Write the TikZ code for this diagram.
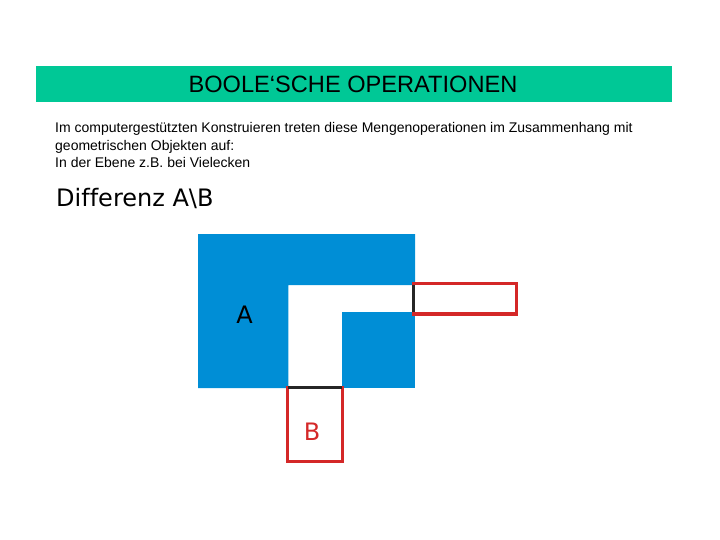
\documentclass[tikz,border=0pt]{standalone}
\usepackage{fontspec}
\setmainfont{Liberation Sans}
\newfontfamily\dejavu[Ligatures=NoCommon]{DejaVu Sans}
\usetikzlibrary{positioning}
\definecolor{titlegreen}{RGB}{0,200,150}
\definecolor{setblue}{RGB}{0,142,214}
\definecolor{setred}{RGB}{212,40,40}
\tikzset{
  bodytext/.style={anchor=base west, inner sep=0pt, font=\fontsize{14}{16}\selectfont},
  setlabel/.style={inner sep=0pt, font=\dejavu\fontsize{24}{28}\selectfont},
  redbox/.style={draw=setred, line width=3.3pt},
  cutedge/.style={draw=black!85, line width=3pt}
}
\begin{document}
\begin{tikzpicture}[x=1pt, y=-1pt]
				\useasboundingbox (0,0) rectangle (720,540);
				% Title bar
				\fill[titlegreen] (36,66) rectangle (672,102);
				\node[inner sep=0pt, font=\fontsize{23.6}{27}\selectfont] (title) at (353,84) {BOOLE‘SCHE OPERATIONEN};
				% Explanation
				\node[bodytext] (line1) at (55,133) {Im computergestützten Konstruieren treten diese Mengenoperationen im Zusammenhang mit};
				\node[bodytext] (line2) at (55,150.5) {geometrischen Objekten auf:};
				\node[bodytext] (line3) at (55,168) {In der Ebene z.B. bei Vielecken};
				\node[setlabel, anchor=base west] (heading) at (56,207) {Dif{}ferenz A\textbackslash B};
				% Set A minus B
				\fill[setblue] (198,234) -- (415,234) -- (415,285) -- (288.3,285) -- (288.3,388) -- (198,388) -- cycle;
				\fill[setblue] (341.7,312.3) rectangle (415,388);
				% Set B outline
				\draw[redbox] (413.5,283.4) rectangle (516.7,314);
				\draw[redbox] (287.5,387.5) rectangle (342.3,461.7);
				% Shared edges
				\draw[cutedge] (413.5,285) -- (413.5,312.3);
				\draw[cutedge] (287.5,387.5) -- (342.3,387.5);
				% Labels
				\node[setlabel] (A) at (244.5,315) {A};
				\node[setlabel, text=setred] (B) at (312,432) {B};
\end{tikzpicture}
\end{document}
